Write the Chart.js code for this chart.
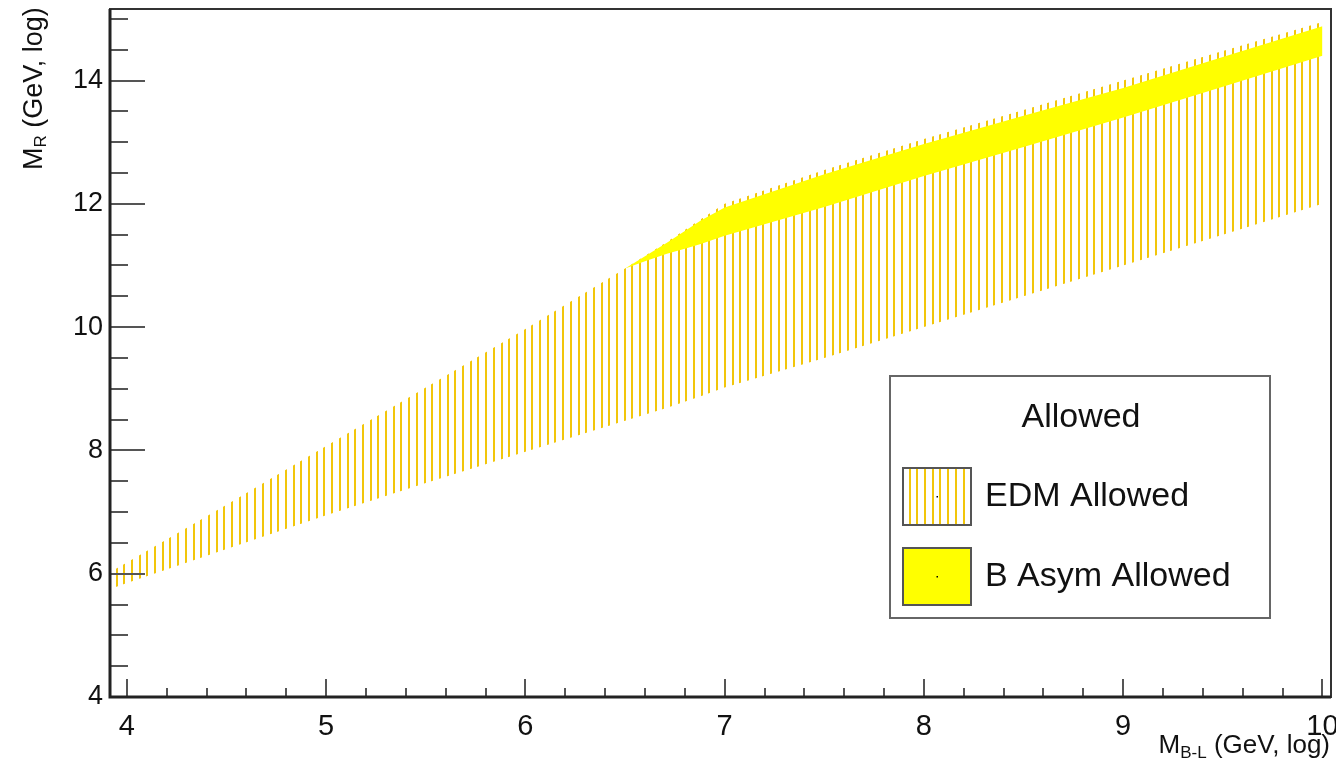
<!DOCTYPE html>
<html>
<head>
<meta charset="utf-8">
<script src="https://cdn.jsdelivr.net/npm/chart.js@4.4.0/dist/chart.umd.min.js"></script>
<style>
  html, body { margin: 0; padding: 0; background: #fff; }
  canvas { display: block; }
</style>
</head>
<body>
<canvas id="allowedChart" width="1336" height="763"></canvas>
<script>
// EDM allowed band, M_B-L vs M_R (both log10 GeV)
const edmX     = [3.93, 4.0, 4.5, 5.0, 5.5, 6.0, 6.5, 6.7, 6.88, 7.0, 7.5, 8.0, 8.5, 9.0, 9.5, 10.0];
const edmLower = [5.77, 5.85, 6.4, 6.95, 7.47, 7.98, 8.48, 8.68, 8.88, 9.02, 9.5, 10.0, 10.5, 11.0, 11.5, 12.0];
const edmUpper = [6.05, 6.18, 7.12, 8.07, 9.02, 9.97, 10.95, 11.36, 11.75, 12.0, 12.55, 13.05, 13.52, 14.0, 14.48, 14.95];

// baryon asymmetry allowed band
const basymX     = [6.5, 6.6, 6.71, 6.8, 6.88, 7.0, 7.5, 8.0, 8.5, 9.0, 9.5, 10.0];
const basymLower = [10.95, 11.07, 11.19, 11.27, 11.35, 11.48, 11.95, 12.45, 12.92, 13.4, 13.9, 14.4];
const basymUpper = [10.95, 11.15, 11.37, 11.56, 11.73, 11.94, 12.48, 12.97, 13.43, 13.88, 14.38, 14.88];

const xTicks = [4, 5, 6, 7, 8, 9, 10];
const yTicks = [4, 6, 8, 10, 12, 14];
const legendTitle = "Allowed";

const FONT = "'Liberation Sans', Arial, Helvetica, sans-serif";
const hatchColor = "rgb(242, 198, 10)";
const solidColor = "#ffff00";

function pts(xs, ys) {
  return xs.map((x, i) => ({ x: x, y: ys[i] }));
}

// vertical line hatch like ROOT fill style
function makeHatch() {
  const c = document.createElement("canvas");
  c.width = 77;
  c.height = 4;
  const g = c.getContext("2d");
  g.fillStyle = hatchColor;
  for (let i = 0; i < 10; i++) {
    g.fillRect(Math.round(i * 7.7), 0, 2, 4);
  }
  return g.createPattern(c, "repeat");
}
const hatch = makeHatch();

// ticks inside the frame + frame itself + axis titles
const rootAxes = {
  id: "rootAxes",
  afterDatasetsDraw(chart) {
    const { ctx, chartArea: a, scales: { x, y } } = chart;
    ctx.save();

    ctx.strokeStyle = "#555";
    ctx.lineWidth = 2;
    ctx.beginPath();
    for (let k = Math.ceil(y.min * 2); k <= Math.floor(y.max * 2 + 1e-6); k++) {
      const py = Math.round(y.getPixelForValue(k / 2));
      const len = (k % 4 === 0) ? 35 : 18;
      ctx.moveTo(a.left, py);
      ctx.lineTo(a.left + len, py);
    }
    for (let k = Math.ceil(x.min * 5); k <= Math.floor(x.max * 5 + 1e-6); k++) {
      const px = Math.round(x.getPixelForValue(k / 5));
      const len = (k % 5 === 0) ? 18 : 9;
      ctx.moveTo(px, a.bottom);
      ctx.lineTo(px, a.bottom - len);
    }
    ctx.stroke();

    // frame
    ctx.strokeStyle = "#333";
    ctx.lineWidth = 2;
    ctx.strokeRect(a.left, a.top, a.right - a.left, a.bottom - a.top);
    ctx.strokeStyle = "#222";
    ctx.lineWidth = 3;
    ctx.beginPath();
    ctx.moveTo(a.left, a.top);
    ctx.lineTo(a.left, a.bottom);
    ctx.lineTo(a.right, a.bottom);
    ctx.stroke();

    // x title, right aligned
    ctx.fillStyle = "#111";
    ctx.textBaseline = "alphabetic";
    ctx.textAlign = "left";
    const big = "26px " + FONT, small = "17px " + FONT;
    ctx.font = big;
    const wM = ctx.measureText("M").width;
    const wRest = ctx.measureText(" (GeV, log)").width;
    ctx.font = small;
    const wSub = ctx.measureText("B-L").width;
    let sx = 1330 - (wM + wSub + wRest);
    const by = 753;
    ctx.font = big; ctx.fillText("M", sx, by); sx += wM;
    ctx.font = small; ctx.fillText("B-L", sx, by + 5); sx += wSub;
    ctx.font = big; ctx.fillText(" (GeV, log)", sx, by);

    // y title, rotated
    ctx.save();
    ctx.translate(42, 170);
    ctx.rotate(-Math.PI / 2);
    const yb = "27px " + FONT, ys = "17px " + FONT;
    let tx = 0;
    ctx.font = yb; ctx.fillText("M", tx, 0); tx += ctx.measureText("M").width;
    ctx.font = ys; ctx.fillText("R", tx, 4); tx += ctx.measureText("R").width;
    ctx.font = yb; ctx.fillText(" (GeV, log)", tx, 0);
    ctx.restore();

    ctx.restore();
  }
};

// TLegend-like box
const rootLegend = {
  id: "rootLegend",
  afterDraw(chart) {
    const ctx = chart.ctx;
    const ds = chart.data.datasets;
    const entries = [ds[3], ds[1]];
    ctx.save();
    ctx.fillStyle = "#fff";
    ctx.fillRect(890, 376, 380, 242);
    ctx.strokeStyle = "#666";
    ctx.lineWidth = 2;
    ctx.strokeRect(890, 376, 380, 242);

    ctx.fillStyle = "#111";
    ctx.font = "34px " + FONT;
    ctx.textAlign = "center";
    ctx.textBaseline = "middle";
    ctx.fillText(legendTitle, 1081, 418);

    const rows = [496, 576];
    entries.forEach((d, i) => {
      const cy = rows[i];
      const bx = 903, bw = 68, bh = 57, bt = cy - 28;
      ctx.fillStyle = "#fff";
      ctx.fillRect(bx, bt, bw, bh);
      ctx.fillStyle = d.backgroundColor;
      ctx.fillRect(bx, bt, bw, bh);
      ctx.strokeStyle = "#555";
      ctx.lineWidth = 2;
      ctx.strokeRect(bx, bt, bw, bh);
      ctx.fillStyle = "#000";
      ctx.fillRect(bx + bw / 2 - 0.5, cy, 1.5, 1.5);

      ctx.fillStyle = "#111";
      ctx.font = "34px " + FONT;
      ctx.textAlign = "left";
      ctx.fillText(d.label, 985, cy + 1);
    });
    ctx.restore();
  }
};

const ctx = document.getElementById("allowedChart").getContext("2d");
new Chart(ctx, {
  type: "line",
  data: {
    datasets: [
      { label: "B Asym lower", data: pts(basymX, basymLower), borderWidth: 0, pointRadius: 0, fill: false },
      { label: "B Asym Allowed", data: pts(basymX, basymUpper), borderWidth: 0, pointRadius: 0,
        backgroundColor: solidColor, fill: 0 },
      { label: "EDM lower", data: pts(edmX, edmLower), borderWidth: 0, pointRadius: 0, fill: false },
      { label: "EDM Allowed", data: pts(edmX, edmUpper), borderWidth: 0, pointRadius: 0,
        backgroundColor: hatch, fill: 2 }
    ]
  },
  options: {
    responsive: false,
    animation: false,
    devicePixelRatio: 1,
    layout: { padding: { left: 0, right: 5, top: 9, bottom: 0 } },
    plugins: { legend: { display: false }, tooltip: { enabled: false } },
    elements: { line: { tension: 0 } },
    scales: {
      x: {
        type: "linear",
        min: 3.915,
        max: 10.043,
        afterBuildTicks: s => { s.ticks = xTicks.map(v => ({ value: v })); },
        afterFit: s => { s.height = 66; s.paddingLeft = 0; s.paddingRight = 0; },
        grid: { display: false, drawTicks: false },
        border: { display: false },
        ticks: { font: { family: FONT, size: 29 }, color: "#111", padding: 13, maxRotation: 0, autoSkip: false }
      },
      y: {
        type: "linear",
        min: 4,
        max: 15.16,
        afterBuildTicks: s => { s.ticks = yTicks.map(v => ({ value: v })); },
        afterFit: s => { s.width = 110; s.paddingTop = 0; s.paddingBottom = 0; },
        grid: { display: false, drawTicks: false },
        border: { display: false },
        ticks: { font: { family: FONT, size: 27 }, color: "#111", padding: 7, autoSkip: false }
      }
    }
  },
  plugins: [rootAxes, rootLegend]
});
</script>
</body>
</html>
